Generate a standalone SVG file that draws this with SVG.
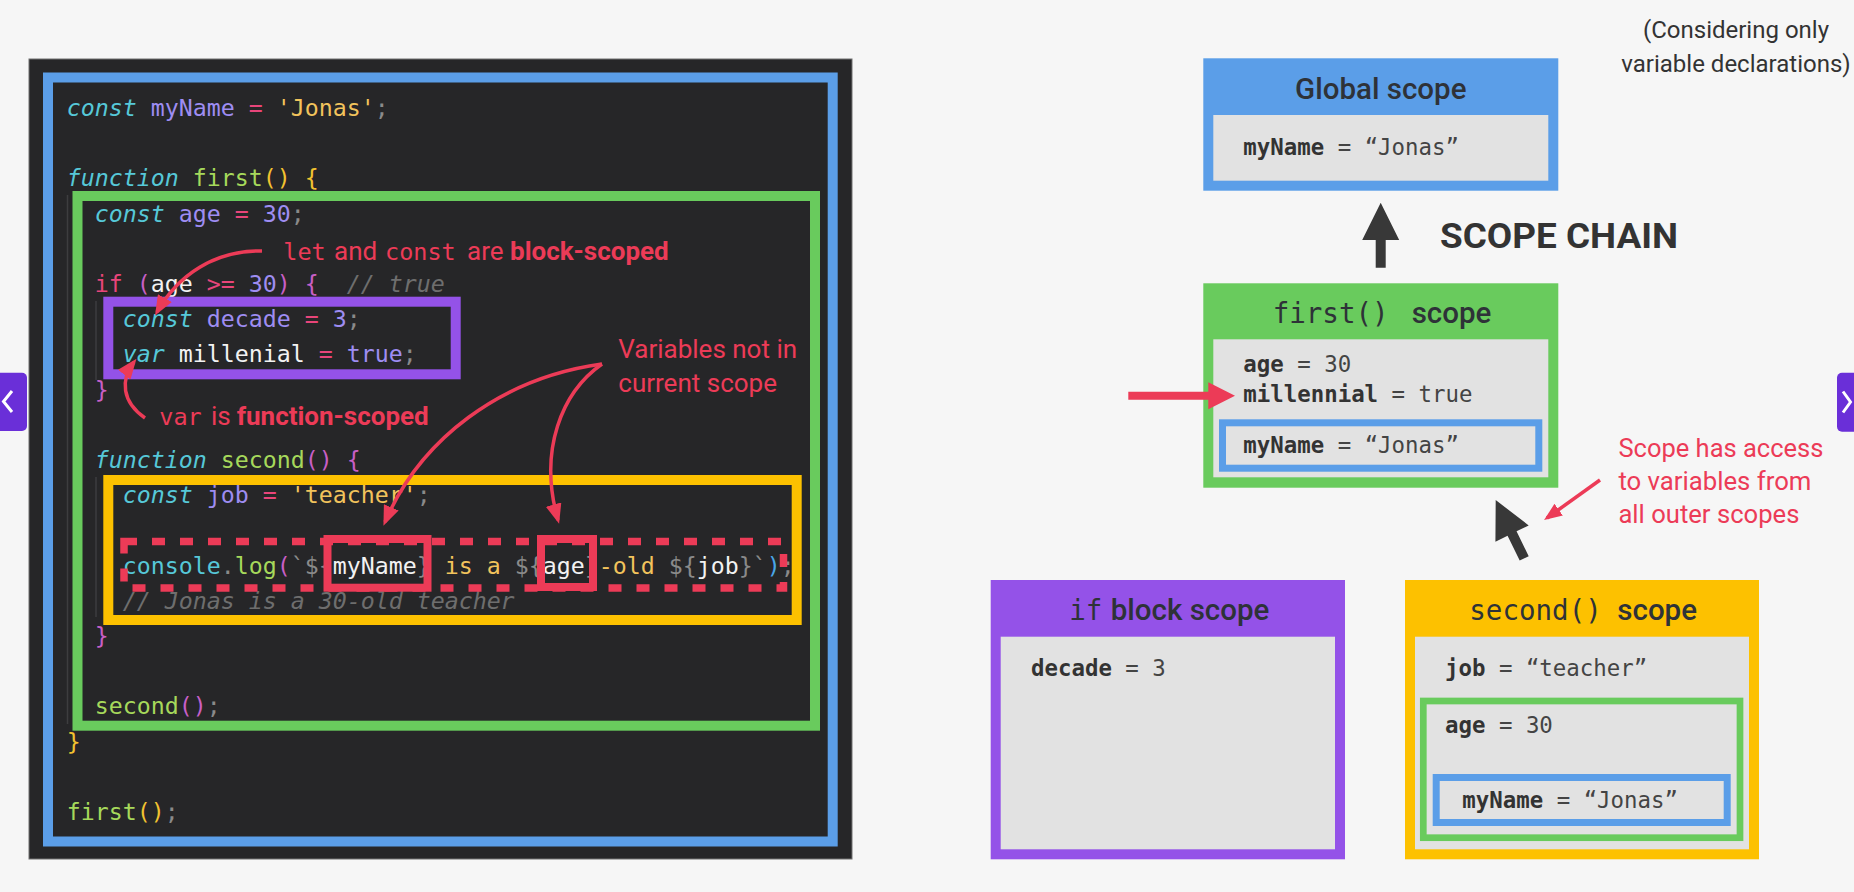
<svg xmlns="http://www.w3.org/2000/svg" width="1854" height="892" viewBox="0 0 1854 892">
<style>
text { white-space: pre; }
.code { font-family: "DejaVu Sans Mono", "Liberation Mono", monospace; font-size: 23.25px; fill: #d4d4d4; }
.kw { fill: #56c8d8; font-style: italic; }
.cy { fill: #56c8d8; }
.vr { fill: #9e8df2; }
.op { fill: #e8457a; }
.st { fill: #f2c35c; }
.fn { fill: #a6d95b; }
.py { fill: #f2c230; }
.pm { fill: #c85fc6; }
.gr { fill: #8a8a8a; }
.wh { fill: #f2f2f2; }
.cm { fill: #6e6e6e; font-style: italic; }
.bl { fill: #4aa6e8; }
.ann { font-family: Roboto, "Noto Sans", sans-serif; font-size: 26px; fill: #ec3b57; }
.annm { font-family: "DejaVu Sans Mono", "Liberation Mono", monospace; font-size: 23.5px; fill: #ec3b57; }
.b { font-weight: bold; }
.guide { stroke: #3d3d3f; stroke-width: 1.5; }
.scopebox { fill: none; stroke-width: 10; }
.redline { fill: none; stroke: #ec3b57; stroke-width: 3.5; }
.title { font-family: Roboto, "Noto Sans", sans-serif; font-size: 29.5px; font-weight: 500; fill: #2e3238; }
.tmono { font-family: "DejaVu Sans Mono", "Liberation Mono", monospace; font-size: 27.5px; fill: #2e3238; }
.val { font-family: "DejaVu Sans Mono", "Liberation Mono", monospace; font-size: 22.4px; fill: #444; }
.val .k { font-weight: bold; fill: #333; }
.inner { fill: #e2e2e2; }
.note { font-family: Roboto, "Noto Sans", sans-serif; font-size: 24px; fill: #333; }
.dark { fill: #383838; }
</style>
<defs>
<marker id="rh" markerUnits="userSpaceOnUse" viewBox="0 0 20 16" refX="16" refY="8" markerWidth="20" markerHeight="16" orient="auto">
<path d="M0,0 L20,8 L0,16 Z" fill="#ec3b57"/>
</marker>
<marker id="rhs" markerUnits="userSpaceOnUse" viewBox="0 0 20 16" refX="16" refY="8" markerWidth="18" markerHeight="15" orient="auto">
<path d="M0,0 L20,8 L0,16 Z" fill="#ec3b57"/>
</marker>
<path id="fatarrow" d="M0,0 L18.5,37.3 L5,37.3 L5,65 L-5,65 L-5,37.3 L-18.5,37.3 Z"/>
</defs>

<rect x="0" y="0" width="1854" height="892" fill="#f6f6f6"/>

<!-- nav buttons -->
<g id="nav-left">
<path d="M0,372.7 H22 a5,5 0 0 1 5,5 V426 a5,5 0 0 1 -5,5 H0 Z" fill="#6a2fd8"/>
<polyline points="12,391 3.5,401.5 12,412" fill="none" stroke="#fff" stroke-width="3"/>
</g>
<g id="nav-right">
<path d="M1854,372.7 H1842 a5,5 0 0 0 -5,5 V426.7 a5,5 0 0 0 5,5 H1854 Z" fill="#6a2fd8"/>
<polyline points="1843,391.5 1850.5,402 1843,412.5" fill="none" stroke="#fff" stroke-width="3"/>
</g>

<!-- code panel -->
<g id="code-panel">
<rect x="29" y="59" width="823" height="800" fill="#262628" stroke="#707070" stroke-width="1"/>
<line class="guide" x1="67.5" y1="195" x2="67.5" y2="724"/>
<line class="guide" x1="96" y1="301" x2="96" y2="380"/>
<line class="guide" x1="96" y1="477" x2="96" y2="617"/>

<text class="code" x="66.7" y="116"><tspan class="kw">const</tspan> <tspan class="vr">myName</tspan> <tspan class="op">=</tspan> <tspan class="st">'Jonas'</tspan><tspan class="gr">;</tspan></text>
<text class="code" x="66.7" y="186.4"><tspan class="kw">function</tspan> <tspan class="fn">first</tspan><tspan class="py">()</tspan> <tspan class="py">{</tspan></text>
<text class="code" x="94.7" y="221.6"><tspan class="kw">const</tspan> <tspan class="vr">age</tspan> <tspan class="op">=</tspan> <tspan class="vr">30</tspan><tspan class="gr">;</tspan></text>
<text class="code" x="94.7" y="292"><tspan class="op">if</tspan> <tspan class="pm">(</tspan><tspan class="wh">age</tspan> <tspan class="op">&gt;=</tspan> <tspan class="vr">30</tspan><tspan class="pm">)</tspan> <tspan class="pm">{</tspan>  <tspan class="cm">// true</tspan></text>
<text class="code" x="122.7" y="327.2"><tspan class="kw">const</tspan> <tspan class="vr">decade</tspan> <tspan class="op">=</tspan> <tspan class="vr">3</tspan><tspan class="gr">;</tspan></text>
<text class="code" x="122.7" y="362.4"><tspan class="kw">var</tspan> <tspan class="wh">millenial</tspan> <tspan class="op">=</tspan> <tspan class="vr">true</tspan><tspan class="gr">;</tspan></text>
<text class="code" x="94.7" y="397.6"><tspan class="pm">}</tspan></text>
<text class="code" x="94.7" y="468"><tspan class="kw">function</tspan> <tspan class="fn">second</tspan><tspan class="pm">()</tspan> <tspan class="pm">{</tspan></text>
<text class="code" x="122.7" y="503.2"><tspan class="kw">const</tspan> <tspan class="vr">job</tspan> <tspan class="op">=</tspan> <tspan class="st">'teacher'</tspan><tspan class="gr">;</tspan></text>
<text class="code" x="122.7" y="573.6"><tspan class="cy">console</tspan><tspan class="gr">.</tspan><tspan class="fn">log</tspan><tspan class="pm">(</tspan><tspan class="gr">`${</tspan><tspan class="wh">myName</tspan><tspan class="gr">}</tspan><tspan class="st"> is a </tspan><tspan class="gr">${</tspan><tspan class="wh">age</tspan><tspan class="gr">}</tspan><tspan class="st">-old </tspan><tspan class="gr">${</tspan><tspan class="wh">job</tspan><tspan class="gr">}`</tspan><tspan class="bl">)</tspan><tspan class="gr">;</tspan></text>
<text class="code" x="122.7" y="608.8"><tspan class="cm">// Jonas is a 30-old teacher</tspan></text>
<text class="code" x="94.7" y="644"><tspan class="pm">}</tspan></text>
<text class="code" x="94.7" y="714.4"><tspan class="fn">second</tspan><tspan class="pm">()</tspan><tspan class="gr">;</tspan></text>
<text class="code" x="66.7" y="749.6"><tspan class="py">}</tspan></text>
<text class="code" x="66.7" y="820"><tspan class="fn">first</tspan><tspan class="py">()</tspan><tspan class="gr">;</tspan></text>

<rect class="scopebox" x="48" y="77.5" width="784.7" height="764" stroke="#5b9ee8"/>
<rect class="scopebox" x="77.5" y="196" width="737.5" height="529.7" stroke="#69cb5d"/>
<rect class="scopebox" x="108.3" y="301.7" width="347.4" height="72.6" stroke="#9452e8"/>
<rect class="scopebox" x="108.3" y="480" width="688.4" height="140" stroke="#fdc100"/>
<rect x="124" y="541.5" width="659.5" height="46.5" fill="none" stroke="#ec3b57" stroke-width="7.5" stroke-dasharray="13 15"/>
<rect x="327.5" y="539" width="100" height="48.7" fill="none" stroke="#ec3b57" stroke-width="8"/>
<rect x="541" y="539" width="52" height="48" fill="none" stroke="#ec3b57" stroke-width="8"/>

<text x="283.3" y="260"><tspan class="annm" x="283.3">let</tspan><tspan class="ann" x="334">and</tspan><tspan class="annm" x="385">const</tspan><tspan class="ann" x="467">are</tspan><tspan class="ann b" x="510">block-scoped</tspan></text>
<text x="159.3" y="425"><tspan class="annm" x="159.3">var</tspan><tspan class="ann" x="211">is</tspan><tspan class="ann b" x="236.7">function-scoped</tspan></text>
<text class="ann" x="618.3" y="358.3">Variables not in</text>
<text class="ann" x="618.3" y="391.7">current scope</text>
</g>

<!-- right side scope boxes -->
<text class="note" x="1736" y="38.3" text-anchor="middle">(Considering only</text>
<text class="note" x="1736" y="71.7" text-anchor="middle">variable declarations)</text>

<g id="global-scope">
<rect x="1203.3" y="58.3" width="355" height="132.4" fill="#5b9ee8"/>
<rect class="inner" x="1213.3" y="115" width="335" height="65.7"/>
<text class="title" x="1380.8" y="99.3" text-anchor="middle">Global scope</text>
<text class="val" x="1243.3" y="155"><tspan class="k">myName</tspan> = “Jonas”</text>
</g>

<g id="first-scope">
<rect x="1203.3" y="283.3" width="355" height="204.4" fill="#69cb5d"/>
<rect class="inner" x="1213.3" y="339.3" width="335" height="138"/>
<text x="1272.7" y="323.3"><tspan class="tmono">first()</tspan><tspan class="title" x="1411.7">scope</tspan></text>
<text class="val" x="1243.3" y="371.7"><tspan class="k">age</tspan> = 30</text>
<text class="val" x="1243.3" y="402.3"><tspan class="k">millennial</tspan> = true</text>
<rect x="1222.5" y="422.8" width="316.3" height="45.4" fill="none" stroke="#5b9ee8" stroke-width="7"/>
<text class="val" x="1243.3" y="452.7"><tspan class="k">myName</tspan> = “Jonas”</text>
</g>

<g id="if-scope">
<rect x="990.7" y="580" width="354.3" height="279.3" fill="#9452e8"/>
<rect class="inner" x="1000.7" y="636.7" width="334.3" height="212.6"/>
<text x="1069.3" y="620"><tspan class="tmono" fill="#1e1a2a">if</tspan><tspan class="title" x="1110.7" fill="#1e1a2a">block scope</tspan></text>
<text class="val" x="1031" y="676"><tspan class="k">decade</tspan> = 3</text>
</g>

<g id="second-scope">
<rect x="1405" y="580" width="354" height="279.3" fill="#fdc100"/>
<rect class="inner" x="1415" y="636.7" width="334" height="212.6"/>
<text x="1469.3" y="620"><tspan class="tmono">second()</tspan><tspan class="title" x="1617.3">scope</tspan></text>
<text class="val" x="1445" y="676"><tspan class="k">job</tspan> = “teacher”</text>
<rect x="1423.3" y="701" width="316.7" height="136.7" fill="none" stroke="#69cb5d" stroke-width="6.7"/>
<text class="val" x="1445" y="733.3"><tspan class="k">age</tspan> = 30</text>
<rect x="1436.2" y="777.5" width="291" height="45" fill="none" stroke="#5b9ee8" stroke-width="7"/>
<text class="val" x="1462.3" y="808.3"><tspan class="k">myName</tspan> = “Jonas”</text>
</g>

<text x="1440" y="248.3" font-family="Roboto, 'Noto Sans', sans-serif" font-size="35" font-weight="bold" fill="#333" textLength="238" lengthAdjust="spacingAndGlyphs">SCOPE CHAIN</text>
<text class="ann" x="1618.4" y="456.7" font-size="25" textLength="205" lengthAdjust="spacingAndGlyphs">Scope has access</text>
<text class="ann" x="1618.4" y="490" font-size="25" textLength="193" lengthAdjust="spacingAndGlyphs">to variables from</text>
<text class="ann" x="1618.4" y="523.3" font-size="25" textLength="181" lengthAdjust="spacingAndGlyphs">all outer scopes</text>

<!-- connectors -->
<g id="connectors">
<path class="redline" d="M262,251 C215,250 178,275 157,312" marker-end="url(#rh)"/>
<path class="redline" d="M145,418 C122,402 120,380 134,362" marker-end="url(#rh)"/>
<path class="redline" d="M602,364 C500,378 420,440 385,522" marker-end="url(#rh)"/>
<path class="redline" d="M602,364 C562,392 538,450 558,520" marker-end="url(#rh)"/>
<path class="redline" d="M1600,480 L1547,518" stroke-width="3" marker-end="url(#rhs)"/>
<path d="M1128.3,391.8 H1208.3 V382.3 L1235,395.8 L1208.3,409.3 V399.8 H1128.3 Z" fill="#ec3b57"/>
<use href="#fatarrow" class="dark" transform="translate(1380.7,202.7)"/>
<use href="#fatarrow" class="dark" transform="translate(1495.7,500) rotate(-26)"/>
</g>
</svg>
